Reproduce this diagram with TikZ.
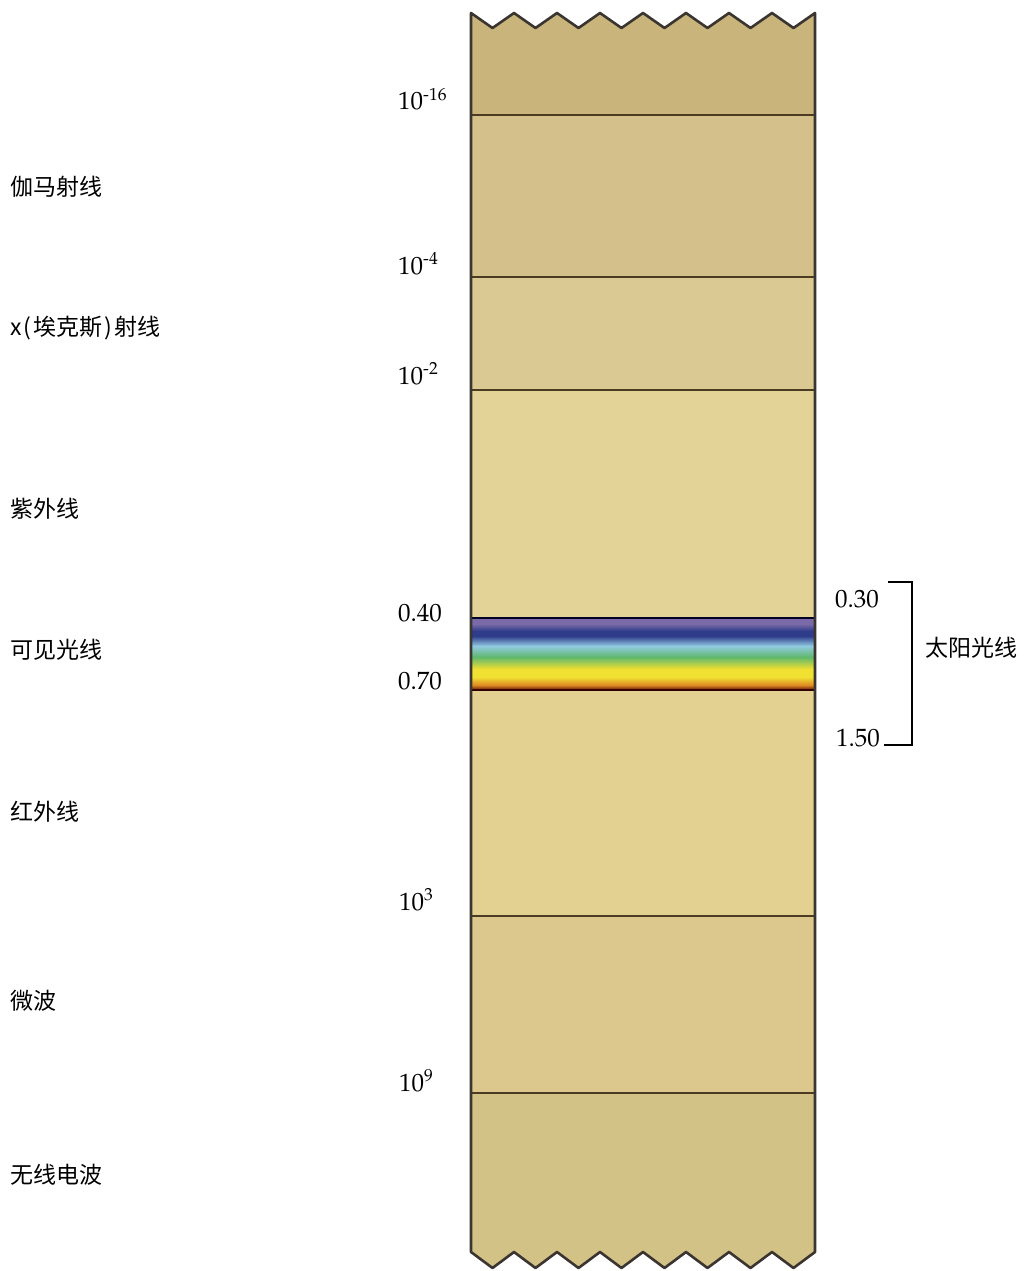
\documentclass[tikz,border=0pt]{standalone}
\usepackage{fontspec}
\setmainfont{TeX Gyre Pagella}
\newfontfamily\cjk{Noto Sans CJK SC}
\definecolor{secA}{HTML}{C9B47B}
\definecolor{secB}{HTML}{D3C08A}
\definecolor{secC}{HTML}{DBC993}
\definecolor{secD}{HTML}{E3D396}
\definecolor{secE}{HTML}{E2D191}
\definecolor{secF}{HTML}{DCC88D}
\definecolor{secG}{HTML}{D3C286}
\definecolor{edgecol}{HTML}{3A3530}
\definecolor{divcol}{HTML}{4A3B22}
\definecolor{bPurple}{HTML}{7A6AA8}
\definecolor{bBlue}{HTML}{2E3C8A}
\definecolor{bLight}{HTML}{92CAE2}
\definecolor{bGreen}{HTML}{5FB86C}
\definecolor{bYellow}{HTML}{F0E032}
\definecolor{bOrange}{HTML}{E08A22}
\definecolor{bRed}{HTML}{7A2A10}
\begin{document}
\begin{tikzpicture}[x=1pt,y=-1pt,
  cnlabel/.style={anchor=west,inner sep=0pt,font=\cjk\fontsize{23}{26}\selectfont},
  numlabel/.style={anchor=base west,inner sep=0pt,font=\fontsize{25}{28}\selectfont},
  numlabelR/.style={anchor=base east,inner sep=0pt,font=\fontsize{25}{28}\selectfont},
  divider/.style={line width=2.4pt,draw=divcol},
  bracketline/.style={line width=2.4pt,draw=black}]
\useasboundingbox (0,0) rectangle (1032,1271);
% column fill
\begin{scope}
\clip (471,13) \foreach \k in {1,...,16} { -- ({471+21.5*\k},{ifthenelse(mod(\k,2)==1,28,13)}) }
  -- (815,1252) \foreach \k in {1,...,16} { -- ({815-21.5*\k},{ifthenelse(mod(\k,2)==1,1268,1252)}) } -- cycle;
\fill[secA] (460,0) rectangle (830,115);
\fill[secB] (460,115) rectangle (830,277);
\fill[secC] (460,277) rectangle (830,390);
\fill[secD] (460,390) rectangle (830,619);
\fill[secE] (460,689) rectangle (830,916);
\fill[secF] (460,916) rectangle (830,1093);
\fill[secG] (460,1093) rectangle (830,1271);
% visible band
\shade[top color=bPurple,bottom color=bPurple] (460,619) rectangle (830,624);
\shade[top color=bPurple,bottom color=bBlue] (460,624) rectangle (830,631);
\shade[top color=bBlue,bottom color=bBlue] (460,631) rectangle (830,636);
\shade[top color=bBlue,bottom color=bLight] (460,636) rectangle (830,646);
\shade[top color=bLight,bottom color=bGreen] (460,646) rectangle (830,657);
\shade[top color=bGreen,bottom color=bYellow] (460,657) rectangle (830,669);
\shade[top color=bYellow,bottom color=bYellow] (460,669) rectangle (830,677);
\shade[top color=bYellow,bottom color=bOrange] (460,677) rectangle (830,685);
\shade[top color=bOrange,bottom color=bRed] (460,685) rectangle (830,689);
\end{scope}
% dividers
\coordinate (L1) at (471,115); \coordinate (R1) at (815,115);
\coordinate (L2) at (471,277); \coordinate (R2) at (815,277);
\coordinate (L3) at (471,390); \coordinate (R3) at (815,390);
\coordinate (L4) at (471,618); \coordinate (R4) at (815,618);
\coordinate (L5) at (471,690); \coordinate (R5) at (815,690);
\coordinate (L6) at (471,916); \coordinate (R6) at (815,916);
\coordinate (L7) at (471,1093); \coordinate (R7) at (815,1093);
\draw[divider] (L1) -- (R1);
\draw[divider] (L2) -- (R2);
\draw[divider] (L3) -- (R3);
\draw[divider,draw=black!85!blue] (L4) -- (R4);
\draw[divider,draw=black!80!red] (L5) -- (R5);
\draw[divider] (L6) -- (R6);
\draw[divider] (L7) -- (R7);
% outline
\draw[edgecol,line width=2.6pt,line join=round]
  (471,13) \foreach \k in {1,...,16} { -- ({471+21.5*\k},{ifthenelse(mod(\k,2)==1,28,13)}) }
  -- (815,1252) \foreach \k in {1,...,16} { -- ({815-21.5*\k},{ifthenelse(mod(\k,2)==1,1268,1252)}) } -- cycle;
% left labels
\node[cnlabel] (gamma) at (10,187) {伽马射线};
\node[cnlabel] (xray) at (10,328) {x\kern2pt(\kern2pt埃克斯\kern2pt)\kern2pt射线};
\node[cnlabel] (uv) at (10,509) {紫外线};
\node[cnlabel] (vis) at (10,650) {可见光线};
\node[cnlabel] (ir) at (10,812) {红外线};
\node[cnlabel] (micro) at (10,1001) {微波};
\node[cnlabel] (radio) at (10,1175) {无线电波};
% numbers
\node[numlabel] (n1) at (398,110) {10\textsuperscript{-16}};
\node[numlabel] (n2) at (398,274) {10\textsuperscript{-4}};
\node[numlabel] (n3) at (398,384) {10\textsuperscript{-2}};
\node[numlabelR] (n4) at (442,621) {0.40};
\node[numlabelR] (n5) at (442,689) {0.70};
\node[numlabel] (n6) at (399,910) {10\textsuperscript{3}};
\node[numlabel] (n7) at (399,1091) {10\textsuperscript{9}};
\node[numlabelR] (n8) at (879,607) {0.30};
\node[numlabelR] (n9) at (880,746) {1.50};
% sunlight bracket
\coordinate (b1) at (888,582);
\coordinate (b2) at (912,582);
\coordinate (b3) at (912,745);
\coordinate (b4) at (884,745);
\draw[bracketline] (b1) -- (b2) -- (b3) -- (b4);
\node[cnlabel] (sun) at (925,648) {太阳光线};
\end{tikzpicture}
\end{document}
